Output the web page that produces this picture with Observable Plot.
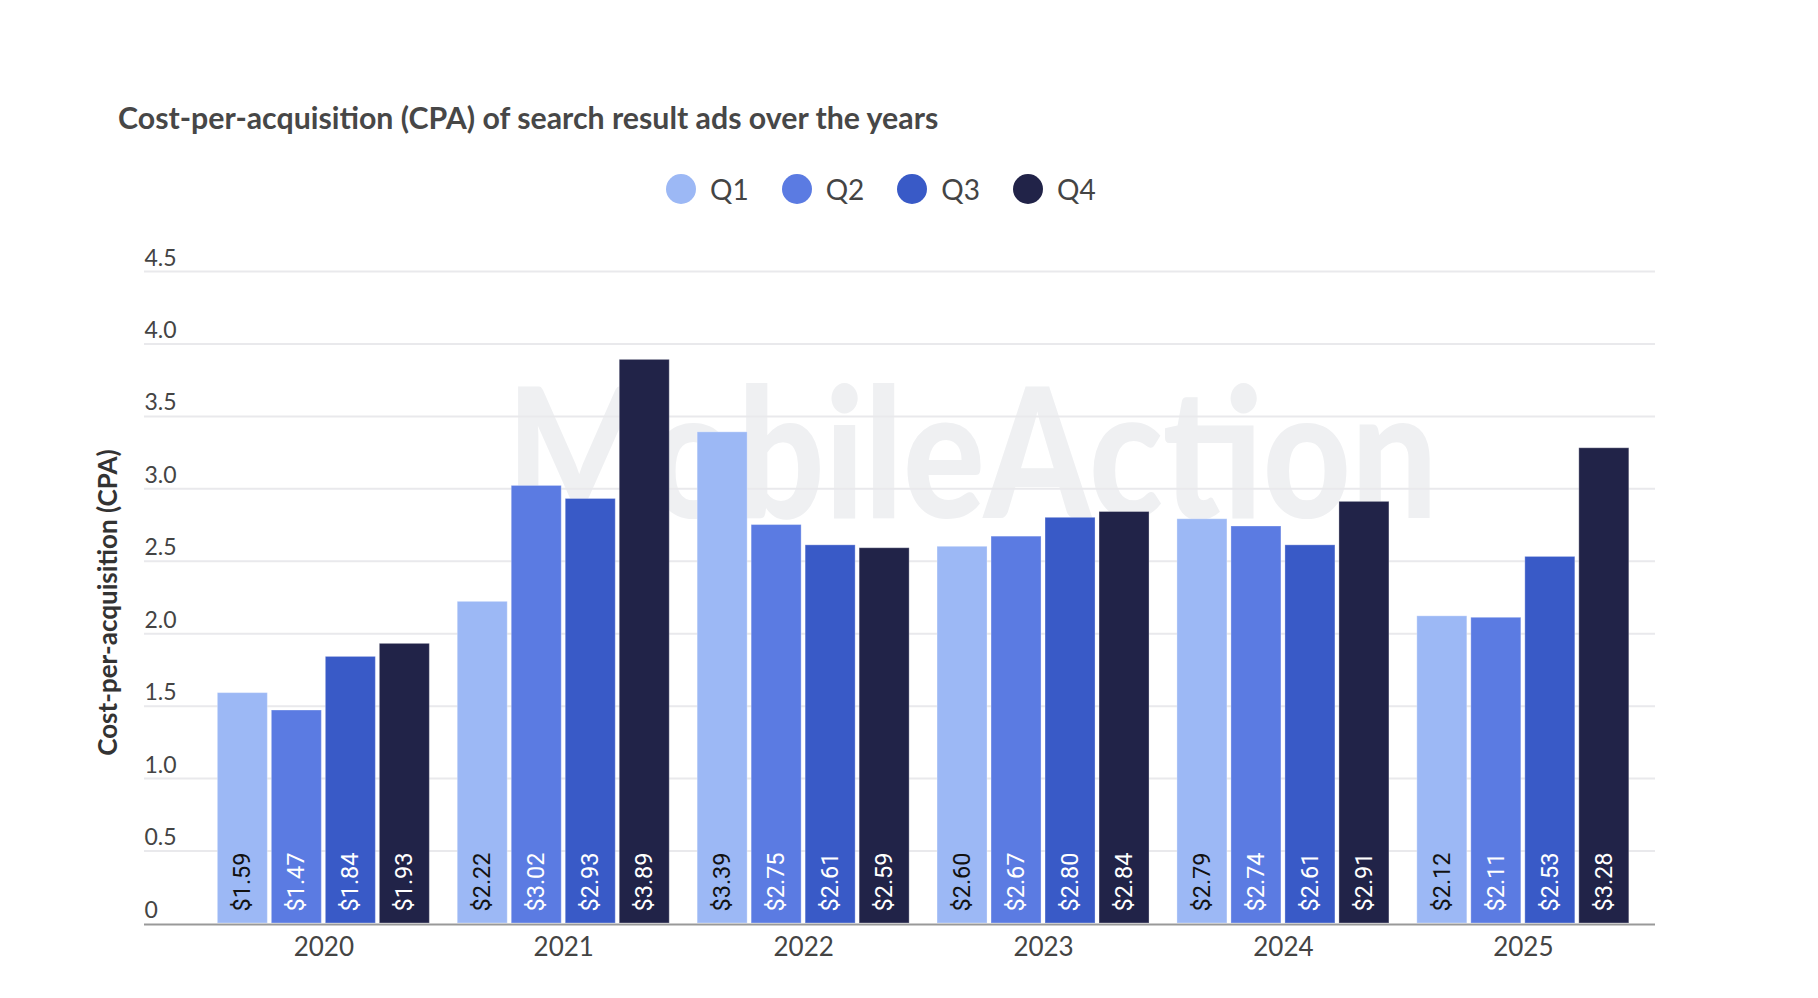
<!DOCTYPE html>
<html><head><meta charset="utf-8">
<script src="https://cdn.jsdelivr.net/npm/d3@7"></script>
<script src="https://cdn.jsdelivr.net/npm/@observablehq/plot@0.6"></script>
<style>
body{margin:0;background:#fff;width:1818px;height:998px;position:relative;overflow:hidden;font-family:Lato,sans-serif;}
#title{position:absolute;left:118px;top:102px;font-size:30.3px;font-weight:700;color:#474747;line-height:30px;white-space:nowrap;}
#legend{position:absolute;left:666px;top:174px;display:flex;align-items:center;height:30px;}
.item{display:flex;align-items:center;margin-right:33px;}
.sw{width:30px;height:30px;border-radius:50%;margin-right:14px;}
.lab{font-size:28px;color:#444;line-height:30px;}
.layer{position:absolute;left:0;top:230px;}
</style></head><body>
<div id="title">Cost-per-acquisition (CPA) of search result ads over the years</div>
<div id="legend"></div>
<div id="back" class="layer"></div>
<div id="front" class="layer"></div>
<script>
const years = ["2020", "2021", "2022", "2023", "2024", "2025"];
const quarters = ["Q1", "Q2", "Q3", "Q4"];
const colors = ["#9cb8f5", "#5b7be2", "#395ac7", "#212348"];
const q1 = [1.59, 2.22, 3.39, 2.60, 2.79, 2.12];
const q2 = [1.47, 3.02, 2.75, 2.67, 2.74, 2.11];
const q3 = [1.84, 2.93, 2.61, 2.80, 2.61, 2.53];
const q4 = [1.93, 3.89, 2.59, 2.84, 2.91, 3.28];
const yTicks = [0, 0.5, 1, 1.5, 2, 2.5, 3, 3.5, 4, 4.5];
const yTickLabels = ["0", "0.5", "1.0", "1.5", "2.0", "2.5", "3.0", "3.5", "4.0", "4.5"];
const yTitle = "Cost-per-acquisition (CPA)";
const watermark = "MobileAction";

const series = [q1, q2, q3, q4];
const data = [];
years.forEach((yr, i) => quarters.forEach((q, j) => data.push({year: yr, q, value: series[j][i]})));

// legend
const leg = document.getElementById("legend");
quarters.forEach((q, j) => {
  const it = document.createElement("div"); it.className = "item";
  const sw = document.createElement("div"); sw.className = "sw"; sw.style.background = colors[j];
  const lb = document.createElement("div"); lb.className = "lab"; lb.textContent = q;
  it.appendChild(sw); it.appendChild(lb); leg.appendChild(it);
});

const common = {
  width: 1818, height: 768,
  marginLeft: 144, marginRight: 163, marginTop: 41, marginBottom: 75,
  style: {background: "transparent", fontFamily: "Lato, sans-serif"},
  y: {domain: [0, 4.5], axis: null}
};

// background layer: watermark, grid, y tick labels, y title
const back = Plot.plot({
  ...common,
  marks: [
    Plot.text([watermark], {frameAnchor: "top-left", textAnchor: "start", lineAnchor: "bottom",
      dx: 362, dy: 246, fontSize: 182, fontWeight: 900, fill: "#eff0f2"}),
    Plot.ruleY(yTicks.slice(1), {stroke: "#e9e9ec", strokeWidth: 2}),
    Plot.text(yTicks, {y: d => d, frameAnchor: "left", textAnchor: "start", lineAnchor: "bottom",
      dy: -6, text: (d, i) => yTickLabels[i], fontSize: 23, fill: "#444"}),
    Plot.text([yTitle], {frameAnchor: "left", textAnchor: "middle", rotate: -90, dx: -36, dy: 5,
      fontWeight: 700, fontSize: 26, fill: "#333"})
  ]
});
d3.select(back).selectAll("text").filter(function() { return this.textContent === watermark; })
  .attr("textLength", 931).attr("lengthAdjust", "spacingAndGlyphs");
document.getElementById("back").appendChild(back);

// front layer: bars, value labels, year axis
const front = Plot.plot({
  ...common,
  fx: {domain: years, paddingInner: 0.1163, paddingOuter: 0.2074, align: 0.737, round: false, label: null},
  x: {domain: quarters, paddingInner: 0.074, paddingOuter: 0, round: false, axis: null},
  color: {domain: quarters, range: colors},
  marks: [
    Plot.barY(data, {fx: "year", x: "q", y: "value", fill: "q", stroke: "#ffffff", strokeOpacity: 0.3, strokeWidth: 1}),
    Plot.text(data, {filter: d => d.q === "Q1", fx: "year", x: "q", y: 0, text: d => "$" + d.value.toFixed(2),
      rotate: -90, textAnchor: "start", dy: -12, fill: "#111", fontSize: 23.5, fontFamily: "Roboto, sans-serif"}),
    Plot.text(data, {filter: d => d.q !== "Q1", fx: "year", x: "q", y: 0, text: d => "$" + d.value.toFixed(2),
      rotate: -90, textAnchor: "start", dy: -12, fill: "#ffffff", fontSize: 23.5, fontFamily: "Roboto, sans-serif"}),
    Plot.axisFx({anchor: "bottom", tickSize: 0, tickPadding: 14, fontSize: 26, label: null, fill: "#444"})
  ]
});
document.getElementById("front").appendChild(front);

// baseline layer on top
const base = Plot.plot({
  ...common,
  marks: [Plot.ruleY([0], {stroke: "#999", strokeWidth: 2, dy: 1})]
});
base.style.position = "absolute"; base.style.left = "0"; base.style.top = "0";
document.getElementById("front").appendChild(base);
</script>
</body></html>
